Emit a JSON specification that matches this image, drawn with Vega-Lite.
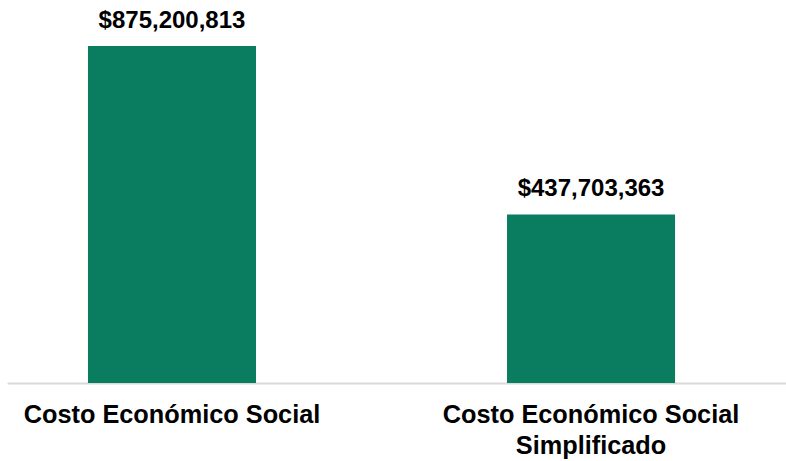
{
  "$schema": "https://vega.github.io/schema/vega-lite/v6.json",
  "width": 779,
  "height": 383,
  "autosize": {"type": "none"},
  "padding": {"left": 7, "right": 0, "top": 0, "bottom": 78},
  "background": "white",
  "config": {
    "view": {"stroke": null},
    "font": "Liberation Sans"
  },
  "data": {
    "values": [
      {"categoria": "Costo Económico Social", "valor": 875200813},
      {"categoria": "Costo Económico Social|Simplificado", "valor": 437703363}
    ]
  },
  "encoding": {
    "x": {
      "field": "categoria",
      "type": "nominal",
      "sort": null,
      "scale": {"paddingInner": 0.599, "paddingOuter": 0.229, "align": 0.4219},
      "axis": {
        "title": null,
        "labelAngle": 0,
        "labelExpr": "split(datum.label, '|')",
        "labelFont": "Liberation Sans",
        "labelFontSize": 25.3,
        "labelFontWeight": "bold",
        "labelColor": "#000000",
        "labelLineHeight": 31,
        "labelPadding": 19,
        "labelLimit": 500,
        "labelOverlap": false,
        "ticks": false,
        "tickSize": 0,
        "domainColor": "#d9d9d9",
        "domainWidth": 2,
        "grid": false
      }
    },
    "y": {
      "field": "valor",
      "type": "quantitative",
      "scale": {"domain": [0, 994700000], "nice": false, "zero": true},
      "axis": null
    }
  },
  "layer": [
    {"mark": {"type": "bar", "color": "#0a7d60"}},
    {
      "mark": {
        "type": "text",
        "baseline": "alphabetic",
        "align": "center",
        "dy": -18,
        "font": "Liberation Sans",
        "fontSize": 24,
        "fontWeight": "bold",
        "color": "#000000"
      },
      "encoding": {
        "text": {"field": "valor", "type": "quantitative", "format": "$,.0f"}
      }
    }
  ]
}
